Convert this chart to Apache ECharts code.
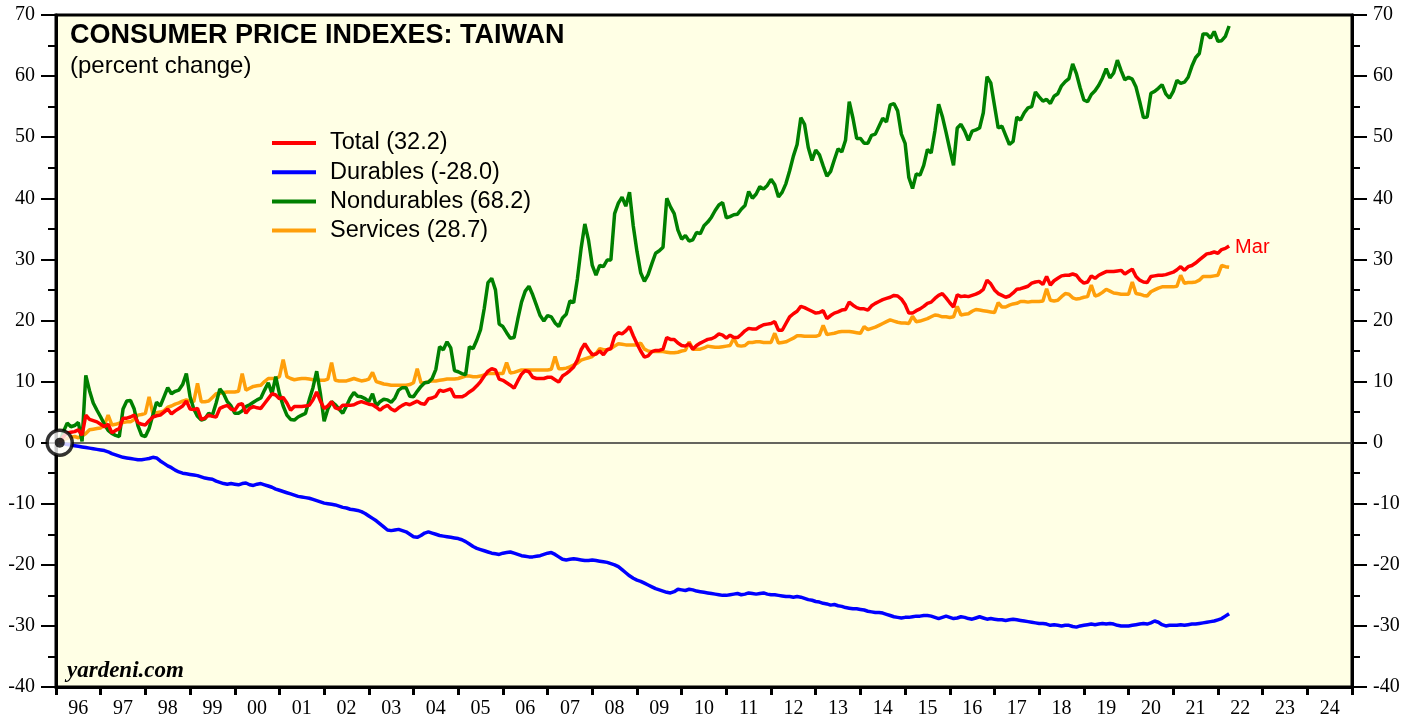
<!DOCTYPE html>
<html>
<head>
<meta charset="utf-8">
<title>Consumer Price Indexes: Taiwan</title>
<script src="https://cdn.jsdelivr.net/npm/echarts@6/dist/echarts.min.js"></script>
<style>
  html, body { margin: 0; padding: 0; background: #fff; }
  #chart { width: 1417px; height: 719px; }
</style>
</head>
<body>
<div id="chart"></div>
<script>
// monthly, Jan 1996 .. Mar 2022, percent change since Jan 1996
const years = ['96','97','98','99','00','01','02','03','04','05','06','07','08','09','10',
  '11','12','13','14','15','16','17','18','19','20','21','22','23','24'];

const total = [
  0, 1.0, 1.6, 1.7, 1.8, 2.1, 1.2, 4.5, 3.8, 3.6, 3.4, 3.0,
  2.6, 3.0, 1.6, 2.0, 2.3, 4.0, 4.0, 4.2, 4.5, 3.3, 3.0, 2.9,
  3.6, 4.2, 4.4, 4.5, 5.0, 5.5, 4.7, 5.2, 5.6, 6.0, 6.8, 5.5,
  5.4, 5.6, 3.8, 4.0, 4.5, 4.3, 4.2, 5.6, 5.9, 6.1, 5.5, 5.3,
  6.2, 6.4, 4.8, 5.6, 5.9, 5.7, 5.6, 6.4, 7.2, 8.0, 7.8, 7.2,
  7.4, 6.5, 5.3, 5.9, 5.9, 5.9, 6.0, 6.1, 7.0, 8.3, 6.8, 5.6,
  6.0, 6.7, 5.7, 5.5, 6.1, 6.1, 6.1, 6.2, 6.5, 6.7, 6.5, 6.3,
  6.2, 5.8, 5.3, 5.8, 6.1, 5.5, 5.2, 5.7, 6.1, 6.4, 6.2, 6.5,
  6.8, 6.4, 6.3, 7.2, 7.3, 7.6, 8.6, 8.4, 8.6, 8.8, 7.5, 7.5,
  7.5, 7.8, 8.3, 8.7, 9.3, 10.0, 10.9, 11.7, 12.1, 11.9, 10.4, 10.2,
  9.8, 9.4, 8.9, 10.1, 11.2, 11.8, 11.6, 10.7, 10.5, 10.5, 10.5, 10.7,
  10.7, 10.3, 9.9, 10.9, 11.3, 11.8, 12.4, 13.5, 15.2, 16.2, 15.2, 14.4,
  14.5, 15.0, 14.4, 15.2, 15.4, 17.4, 18.0, 17.8, 18.3, 19.0, 17.5, 16.2,
  15.0, 14.0, 14.2, 14.9, 15.1, 15.1, 15.3, 17.2, 16.9, 16.9, 16.3, 15.9,
  15.8, 16.2, 15.3, 15.9, 16.3, 16.6, 16.9, 17.0, 17.3, 17.8, 17.6, 17.1,
  17.6, 17.2, 17.2, 17.7, 18.3, 18.7, 18.6, 18.6, 19.0, 19.3, 19.4, 19.5,
  19.8, 18.4, 18.4, 19.5, 20.6, 21.1, 21.5, 22.3, 22.1, 21.8, 21.5, 21.2,
  21.3, 21.6, 20.3, 20.8, 21.2, 21.4, 21.7, 21.8, 23.0, 22.5, 22.1, 21.9,
  21.9, 21.7, 22.4, 22.8, 23.1, 23.4, 23.6, 23.8, 24.1, 24.0, 23.5, 22.6,
  21.2, 21.2, 21.6, 21.9, 22.3, 22.8, 23.0, 23.6, 24.1, 24.4, 23.7, 22.9,
  22.2, 24.2, 23.9, 24.0, 23.9, 24.1, 24.3, 24.6, 25.1, 26.6, 26.0, 25.0,
  24.4, 24.1, 23.8, 24.0, 24.5, 25.1, 25.2, 25.4, 25.6, 26.1, 26.3, 26.4,
  25.9, 27.2, 25.8, 26.5, 26.9, 27.3, 27.4, 27.4, 27.6, 27.4, 26.6, 26.1,
  26.3, 27.3, 26.9, 27.4, 27.7, 28.0, 28.0, 28.0, 28.1, 28.2, 27.6, 28.0,
  28.4, 27.2, 26.6, 26.3, 26.2, 27.2, 27.3, 27.4, 27.4, 27.5, 27.7, 27.9,
  28.3, 28.8, 28.2, 28.8, 29.0, 29.4, 29.9, 30.4, 30.9, 31.0, 31.2, 31.0,
  31.6, 31.8, 32.2
];

const durables = [
  0, -0.2, -0.3, -0.4, -0.5, -0.6, -0.7, -0.8, -0.9, -1.0, -1.1, -1.2,
  -1.3, -1.5, -1.8, -2.0, -2.2, -2.4, -2.5, -2.6, -2.7, -2.8, -2.8, -2.7,
  -2.6, -2.4, -2.5, -3.0, -3.4, -3.8, -4.1, -4.5, -4.8, -5.0, -5.1, -5.2,
  -5.3, -5.4, -5.6, -5.8, -5.9, -6.0, -6.3, -6.5, -6.7, -6.8, -6.7, -6.8,
  -6.9, -6.7, -6.6, -6.9, -7.0, -6.8, -6.7, -6.9, -7.1, -7.3, -7.6, -7.8,
  -8.0, -8.2, -8.4, -8.6, -8.8, -8.9, -9.0, -9.1, -9.3, -9.5, -9.7, -9.9,
  -10.0, -10.1, -10.2, -10.4, -10.6, -10.7, -10.9, -11.0, -11.1, -11.3, -11.6, -12.0,
  -12.4, -12.8, -13.3, -13.8, -14.3, -14.4, -14.3, -14.2, -14.4, -14.6, -15.0, -15.4,
  -15.5, -15.2, -14.8, -14.6, -14.8, -15.0, -15.2, -15.3, -15.4, -15.5, -15.6, -15.7,
  -15.9, -16.2, -16.6, -17.0, -17.3, -17.5, -17.7, -17.9, -18.1, -18.2, -18.3, -18.1,
  -18.0, -17.9, -18.1, -18.3, -18.5, -18.6, -18.7, -18.7, -18.6, -18.5, -18.3, -18.1,
  -18.0, -18.3, -18.7, -19.1, -19.2, -19.1, -19.0, -19.1, -19.2, -19.3, -19.3, -19.2,
  -19.3, -19.4, -19.5, -19.6, -19.8, -20.0, -20.3, -20.8, -21.3, -21.8, -22.2, -22.5,
  -22.7, -23.0, -23.3, -23.6, -23.9, -24.1, -24.3, -24.5, -24.6, -24.4, -24.0, -24.1,
  -24.2, -24.0, -24.1, -24.3, -24.4, -24.5, -24.6, -24.7, -24.8, -24.9, -25.0, -25.0,
  -24.9, -24.8, -24.7, -24.9, -24.8, -24.6, -24.7, -24.8, -24.7, -24.6, -24.8, -24.9,
  -24.9, -25.0, -25.1, -25.2, -25.2, -25.3, -25.2, -25.3, -25.5, -25.7, -25.8, -26.0,
  -26.1, -26.3, -26.4, -26.6, -26.5, -26.7, -26.8, -27.0, -27.1, -27.2, -27.2, -27.3,
  -27.4, -27.6, -27.7, -27.8, -27.8, -27.9, -28.1, -28.3, -28.5, -28.6, -28.7, -28.6,
  -28.6, -28.5, -28.4, -28.4, -28.3, -28.3, -28.4, -28.6, -28.8, -28.6, -28.4, -28.6,
  -28.8, -28.7, -28.5, -28.6, -28.8, -28.9, -28.7, -28.5, -28.7, -28.9, -28.8, -28.9,
  -29.0, -29.0, -29.1, -29.0, -28.9, -29.0, -29.1, -29.2, -29.3, -29.4, -29.5, -29.6,
  -29.6, -29.7, -29.9, -29.8, -29.9, -30.0, -29.9, -29.9, -30.1, -30.2, -30.0, -29.9,
  -29.8, -29.7, -29.8, -29.7, -29.6, -29.7, -29.6, -29.7, -29.9, -30.0, -30.0, -30.0,
  -29.9, -29.8, -29.7, -29.6, -29.7, -29.5, -29.2, -29.4, -29.8, -30.0, -29.9, -29.9,
  -29.9, -29.8, -29.9, -29.8, -29.7, -29.7, -29.6, -29.5, -29.4, -29.3, -29.2, -29.0,
  -28.8, -28.4, -28.0
];

const nondurables = [
  0, 1.8, 3.2, 2.6, 2.8, 3.3, 0.2, 11.0, 8.5, 6.5, 5.3, 4.2,
  3.0, 2.0, 1.5, 1.2, 1.0, 5.5, 6.8, 6.9, 5.5, 2.8, 1.2, 1.0,
  2.3, 4.5, 6.6, 6.0, 7.5, 9.0, 8.0, 8.4, 8.6, 9.5, 11.3, 7.5,
  5.5, 4.3, 3.7, 3.9, 4.8, 4.5, 6.5, 8.8, 8.0, 6.7, 6.0, 4.8,
  4.8, 5.2, 5.9, 6.2, 6.6, 7.0, 7.3, 8.6, 9.8, 8.0, 10.8, 8.0,
  6.0, 4.5, 3.8, 3.7, 4.2, 4.5, 4.8, 7.0, 9.0, 11.7, 8.0, 3.5,
  5.5, 6.7, 6.2, 5.5, 4.8, 6.0, 7.3, 8.2, 7.6, 7.5, 7.2, 6.7,
  8.0, 6.0, 6.7, 7.1, 7.0, 6.6, 7.3, 8.6, 9.0, 9.0, 7.6, 7.5,
  8.4, 9.2, 9.8, 9.9, 10.5, 12.0, 15.7, 15.2, 16.5, 15.5, 11.8, 11.6,
  11.3, 11.1, 15.7, 15.4, 16.8, 18.5, 22.0, 26.2, 26.9, 25.0, 19.4, 19.0,
  18.0, 17.1, 17.2, 20.2, 23.0, 24.8, 25.6, 24.2, 22.5, 20.8, 19.9, 20.8,
  20.6, 19.6, 19.0, 20.4, 21.0, 23.2, 22.9, 26.8, 31.8, 35.8, 33.1, 29.0,
  27.4, 29.0, 28.8, 29.9, 29.9, 37.5, 39.2, 40.2, 38.7, 41.0, 35.5, 31.3,
  27.8, 26.4, 27.5, 29.3, 31.0, 31.4, 32.0, 40.0, 38.6, 37.5, 34.8, 33.3,
  33.9, 33.0, 33.2, 34.4, 34.2, 35.5, 36.1, 36.9, 38.0, 38.9, 39.3, 36.8,
  37.0, 37.3, 37.4, 38.2, 38.8, 41.1, 40.0, 40.7, 41.9, 41.5, 42.1, 43.1,
  42.2, 40.2, 41.0, 42.4, 44.5, 46.9, 48.8, 53.2, 52.1, 48.3, 46.2, 47.9,
  47.1, 45.3, 43.6, 44.4, 46.3, 48.1, 47.6, 49.5, 55.8, 53.1, 49.8, 49.8,
  49.0, 49.0, 50.3, 50.5, 51.8, 53.1, 52.5, 55.3, 55.5, 54.3, 50.5, 49.0,
  43.4, 41.6, 44.0, 43.8, 45.4, 48.0, 47.4, 51.0, 55.4, 53.4, 50.8, 48.0,
  45.4, 51.5, 52.1, 51.0, 49.5, 51.0, 51.2, 51.5, 54.0, 59.9, 58.9, 55.2,
  51.5, 51.8, 50.3, 48.8, 49.3, 53.3, 52.8, 54.0, 54.8, 55.0, 57.4, 56.6,
  55.9, 56.2, 55.5, 56.7, 57.1, 58.4, 59.1, 59.6, 62.0, 60.4, 58.1, 56.1,
  55.8, 57.0, 57.6, 58.5, 59.7, 61.2, 59.7, 60.5, 62.6, 60.9, 59.4, 59.8,
  59.5, 58.2, 55.8, 53.2, 53.3, 57.2, 57.5, 58.0, 58.6, 57.1, 56.4, 57.5,
  59.3, 58.8, 59.0, 59.8, 61.6, 63.0, 63.7, 66.9, 66.9, 66.2, 67.3, 65.7,
  65.8, 66.5, 68.2
];

const services = [
  0, 0.5, 0.7, 0.9, 1.0, 0.8, 1.1, 1.5, 2.1, 2.2, 2.3, 2.4,
  2.9, 4.5, 2.9, 3.0, 3.2, 3.3, 3.4, 3.4, 3.8, 4.5, 4.6, 4.8,
  7.5, 4.8, 4.9, 5.0, 5.2, 5.8, 6.0, 6.3, 6.5, 6.8, 7.0, 6.8,
  6.7, 9.7, 6.7, 6.7, 6.8, 7.4, 8.0, 8.1, 8.2, 8.3, 8.3, 8.3,
  8.4, 11.3, 8.6, 8.9, 9.2, 9.3, 9.4, 10.0, 10.5, 10.5, 10.5, 10.8,
  13.6, 10.8, 10.5, 10.3, 10.4, 10.5, 10.5, 10.4, 10.3, 10.3, 10.2, 10.2,
  10.4, 13.1, 10.2, 10.1, 10.1, 10.1, 10.3, 10.5, 10.3, 10.1, 10.2, 10.4,
  11.5, 10.0, 9.8, 9.6, 9.5, 9.4, 9.4, 9.4, 9.4, 9.4, 9.5, 9.8,
  12.1, 9.8, 9.8, 10.0, 10.1, 10.1, 10.2, 10.3, 10.4, 10.4, 10.4, 10.5,
  10.7, 10.9, 10.9, 10.8, 10.8, 10.9, 11.1, 11.3, 11.3, 11.3, 11.3, 11.3,
  13.1, 11.4, 11.5, 11.7, 11.9, 11.9, 11.9, 11.9, 11.9, 11.9, 11.9, 11.9,
  12.0, 14.1, 12.1, 12.1, 12.2, 12.4, 12.7, 13.0, 13.5, 13.7, 13.9, 14.1,
  14.6, 15.4, 15.2, 15.2, 15.4, 15.8, 16.2, 16.1, 16.0, 16.0, 16.0, 16.0,
  16.3, 15.3, 15.0, 14.9, 14.9, 14.9, 14.9, 14.8, 14.7, 14.7, 14.8, 15.0,
  15.1, 16.5, 15.3, 15.3, 15.3, 15.5, 15.8, 15.7, 15.6, 15.6, 15.7, 15.8,
  15.9, 17.1, 15.9, 15.8, 15.9, 16.4, 16.4, 16.5, 16.5, 16.4, 16.4, 16.4,
  17.9, 16.3, 16.4, 16.5, 16.8, 17.1, 17.5, 17.5, 17.4, 17.4, 17.4, 17.4,
  17.6, 19.2, 17.7, 17.8, 17.9, 18.1, 18.2, 18.2, 18.2, 18.1, 18.0, 17.9,
  19.0, 18.5, 18.7, 18.9, 19.2, 19.5, 19.8, 20.1, 19.9, 19.7, 19.6, 19.6,
  19.5, 20.7, 19.8, 19.9, 20.1, 20.3, 20.6, 20.9, 20.8, 20.6, 20.6, 20.5,
  20.6, 22.3, 20.9, 21.0, 21.1, 21.5, 21.8, 21.7, 21.6, 21.5, 21.4, 21.3,
  22.9, 22.2, 22.2, 22.5, 22.7, 22.8, 23.1, 23.1, 23.0, 23.1, 23.1, 23.1,
  23.2, 25.2, 23.3, 23.2, 23.3, 23.9, 24.4, 24.3, 23.7, 23.5, 23.6, 23.8,
  23.9, 25.8, 24.0, 24.2, 24.6, 25.1, 24.8, 24.5, 24.4, 24.3, 24.3, 24.3,
  26.3, 24.4, 24.3, 24.1, 24.0, 24.7, 25.0, 25.3, 25.5, 25.5, 25.5, 25.5,
  25.6, 27.4, 26.1, 26.2, 26.2, 26.3, 26.6, 27.2, 27.2, 27.2, 27.3, 27.4,
  29.0, 28.8, 28.7
];

// month i plotted at the end of that month
const dates = total.map((v, i) => 1996 + (i + 1) / 12);
const pairs = arr => arr.map((v, i) => [dates[i], v]);

const chart = echarts.init(document.getElementById('chart'));

const serif = 'Liberation Serif';
const sans = 'Liberation Sans';

function lineSeries(name, data, color, extra) {
  return Object.assign({
    name: name,
    type: 'line',
    xAxisIndex: 0,
    data: pairs(data),
    showSymbol: false,
    symbol: 'none',
    lineStyle: { color: color, width: 3.5 },
    itemStyle: { color: color },
    silent: true
  }, extra || {});
}

const yAxisBase = {
  type: 'value',
  min: -40,
  max: 70,
  interval: 10,
  axisLine: { show: true, lineStyle: { color: '#000', width: 3 } },
  axisTick: { show: true, length: 15, lineStyle: { color: '#000', width: 2 } },
  minorTick: { show: true, splitNumber: 2, length: 8, lineStyle: { color: '#000', width: 2 } },
  splitLine: { show: false },
  axisLabel: { fontFamily: serif, fontSize: 20, color: '#000', margin: 21 }
};

chart.setOption({
  animation: false,
  backgroundColor: '#fff',
  title: [
    {
      text: 'CONSUMER PRICE INDEXES: TAIWAN',
      left: 70, top: 22, padding: 0,
      textStyle: { fontFamily: sans, fontWeight: 'bold', fontSize: 27, color: '#000' }
    },
    {
      text: '(percent change)',
      left: 70, top: 54, padding: 0,
      textStyle: { fontFamily: sans, fontWeight: 'normal', fontSize: 24, color: '#000' }
    },
    {
      text: 'yardeni.com',
      left: 67, top: 660, padding: 0,
      textStyle: { fontFamily: serif, fontStyle: 'italic', fontWeight: 'bold', fontSize: 23, color: '#000' }
    }
  ],
  legend: {
    data: ['Total (32.2)', 'Durables (-28.0)', 'Nondurables (68.2)', 'Services (28.7)'],
    orient: 'vertical',
    left: 272,
    top: 131,
    padding: 0,
    itemWidth: 44,
    itemHeight: 4,
    itemGap: 5.2,
    icon: 'rect',
    selectedMode: false,
    textStyle: { fontFamily: sans, fontSize: 23.5, lineHeight: 23.5, color: '#000', padding: [0, 0, 0, 9] }
  },
  grid: {
    left: 56, right: 65, top: 15, bottom: 32,
    show: true,
    backgroundColor: '#FFFFE5',
    borderColor: '#000',
    borderWidth: 3
  },
  xAxis: [
    {
      // data axis, its line is the zero line
      type: 'value',
      min: 1996,
      max: 2025,
      axisLine: { show: true, onZero: true, lineStyle: { color: '#333', width: 1.5 } },
      axisTick: { show: false },
      axisLabel: { show: false },
      splitLine: { show: false }
    },
    {
      type: 'category',
      data: years,
      position: 'bottom',
      boundaryGap: true,
      axisLine: { show: true, onZero: false, lineStyle: { color: '#000', width: 3 } },
      axisTick: { show: true, length: 8, lineStyle: { color: '#000', width: 3 } },
      axisLabel: { interval: 0, fontFamily: serif, fontSize: 20, color: '#000', margin: 12 },
      splitLine: { show: false }
    }
  ],
  yAxis: [
    Object.assign({}, yAxisBase, { position: 'left' }),
    Object.assign({}, yAxisBase, { position: 'right' })
  ],
  series: [
    lineSeries('Services (28.7)', services, '#FF9F0A'),
    lineSeries('Durables (-28.0)', durables, '#0000FF'),
    lineSeries('Nondurables (68.2)', nondurables, '#008000'),
    lineSeries('Total (32.2)', total, '#FF0000', {
      endLabel: {
        show: true,
        formatter: 'Mar',
        color: '#FF0000',
        fontFamily: sans,
        fontSize: 20,
        distance: 6,
        offset: [0, 2]
      }
    }),
    {
      type: 'scatter',
      xAxisIndex: 0,
      data: [[dates[0], total[0]]],
      symbol: 'circle',
      symbolSize: 25,
      itemStyle: { color: '#fff', borderColor: '#000', borderWidth: 3.5 },
      silent: true,
      z: 10
    },
    {
      type: 'scatter',
      xAxisIndex: 0,
      data: [[dates[0], total[0]]],
      symbol: 'circle',
      symbolSize: 10,
      itemStyle: { color: '#000' },
      silent: true,
      z: 11
    }
  ]
});
</script>
</body>
</html>
